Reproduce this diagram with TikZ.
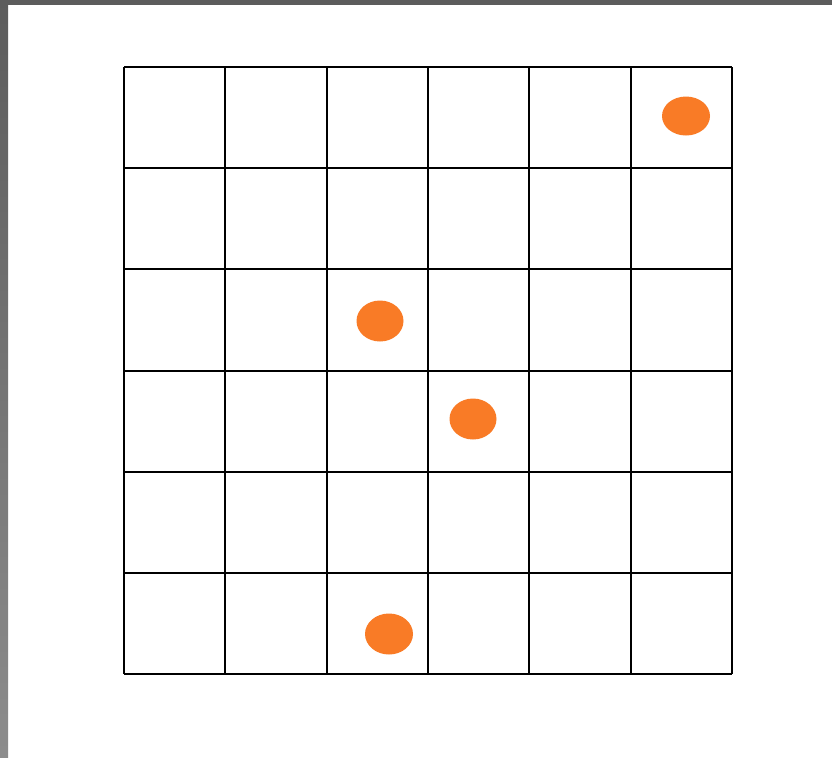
\documentclass[tikz,border=0pt]{standalone}
\usepackage{tikz}
\definecolor{dotorange}{RGB}{249,123,38}
\definecolor{framegray}{RGB}{92,92,92}

\begin{document}
\begin{tikzpicture}[x=0.5pt,y=-0.5pt]

% Canvas
\useasboundingbox (0,0) rectangle (832,757);
\fill[white] (0,0) rectangle (832,757);

% Window edges
\shade[top color=framegray,bottom color=gray!90] (0,0) rectangle (8,757);
\fill[framegray] (8,0) rectangle (832,5);

% Grid
\foreach \i in {0,...,6} {
  \draw[line width=1pt] ({124+\i*101.33},67) -- ({124+\i*101.33},674);
  \draw[line width=1pt] (124,{67+\i*101.17}) -- (732,{67+\i*101.17});
}

% Dots
\fill[dotorange] (686,116) ellipse (24 and 19.5);
\fill[dotorange] (380,321) ellipse (23.5 and 20.5);
\fill[dotorange] (473,419) ellipse (23.5 and 20.5);
\fill[dotorange] (389,634) ellipse (24 and 20.5);

\end{tikzpicture}
\end{document}
